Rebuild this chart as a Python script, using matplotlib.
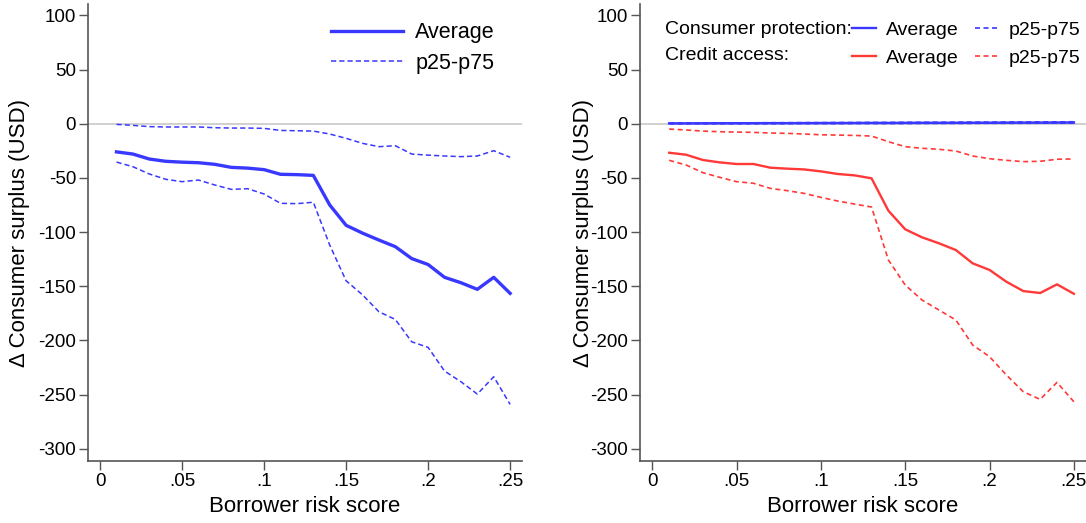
import matplotlib
matplotlib.use("Agg")
import matplotlib.pyplot as plt
from matplotlib.lines import Line2D

plt.rcParams['font.family'] = ['Liberation Sans', 'DejaVu Sans']
plt.rcParams['axes.unicode_minus'] = False

# borrower risk score bins
risk = [0.01, 0.02, 0.03, 0.04, 0.05, 0.06, 0.07, 0.08, 0.09, 0.10,
        0.11, 0.12, 0.13, 0.14, 0.15, 0.16, 0.17, 0.18, 0.19, 0.20,
        0.21, 0.22, 0.23, 0.24, 0.25]

# left panel: overall effect
left_avg = [-26, -28, -32.6, -34.7, -35.5, -36, -37.5, -40.3, -41, -42.4,
            -46.7, -47, -47.7, -75, -93.8, -101, -107.4, -113.5, -124.5, -130,
            -141.8, -146.8, -152.9, -141.8, -156.6]
left_p75 = [-0.6, -1.5, -2.7, -3, -3, -3, -3.7, -4, -4, -4.3,
            -6.2, -6.5, -6.8, -9.5, -13.5, -18.1, -21.2, -20.3, -28, -29,
            -29.8, -30.4, -29.8, -24.9, -31]
left_p25 = [-35.4, -39.7, -46.4, -51.3, -53.5, -52, -56.6, -60.6, -60, -64.9,
            -73.5, -73.8, -72.5, -112, -145, -158, -173.6, -180.7, -201.3, -206.5,
            -228.3, -238.2, -249.6, -233.6, -259.1]

# right panel: consumer protection (blue) and credit access (red)
cp_avg = [0.3, 0.3, 0.35, 0.4, 0.4, 0.45, 0.5, 0.5, 0.55, 0.6,
          0.6, 0.65, 0.7, 0.7, 0.75, 0.8, 0.8, 0.85, 0.9, 0.9,
          0.95, 1.0, 1.0, 1.05, 1.1]
cp_p25 = [0.0, 0.0, 0.0, 0.0, 0.0, 0.0, 0.0, 0.1, 0.1, 0.1,
          0.1, 0.2, 0.2, 0.2, 0.2, 0.3, 0.3, 0.3, 0.3, 0.4,
          0.4, 0.4, 0.5, 0.5, 0.5]
cp_p75 = [0.6, 0.6, 0.7, 0.7, 0.8, 0.8, 0.9, 0.9, 1.0, 1.0,
          1.1, 1.1, 1.2, 1.2, 1.3, 1.3, 1.4, 1.4, 1.5, 1.5,
          1.6, 1.6, 1.7, 1.7, 1.8]
ca_avg = [-26.8, -28.6, -33.5, -35.7, -37.2, -37.2, -40.6, -41.5, -42.2, -44,
          -46.4, -47.7, -50.4, -80.3, -97.5, -104.9, -110.4, -116.6, -128.9, -135,
          -145.9, -154.5, -156.3, -148.3, -157]
ca_p75 = [-4.9, -5.8, -6.8, -7.4, -7.7, -8, -8.6, -8.9, -9.5, -10.2,
          -10.5, -10.8, -11.4, -16.6, -21.2, -22.7, -23.6, -25.2, -29.8, -32.3,
          -33.8, -35, -34.7, -32.8, -32.5]
ca_p25 = [-33.8, -38.1, -45.2, -49.5, -53.5, -55, -59.7, -61.8, -64.3, -68,
          -71.4, -74.2, -76.9, -125.8, -149, -162.8, -172, -181.2, -204.3, -215.1,
          -232, -247.4, -254.5, -238.8, -256.7]

yticks = [100, 50, 0, -50, -100, -150, -200, -250, -300]
xticks = [0, 0.05, 0.1, 0.15, 0.2, 0.25]
xticklabels = ['0', '.05', '.1', '.15', '.2', '.25']

blue = '#3838ff'
red = '#ff3838'
axcol = '#555555'

fig = plt.figure(figsize=(10.86, 5.23), dpi=100)
ax1 = fig.add_axes([0.0813, 0.1185, 0.3993, 0.8738])
ax2 = fig.add_axes([0.5895, 0.1185, 0.4105, 0.8738])

for ax in (ax1, ax2):
    ax.axhline(0, color='#c8c8c8', lw=1.2, zorder=1)
    ax.set_xlim(-0.0072, 0.2572)
    ax.set_ylim(-311.4, 110.5)
    ax.set_yticks(yticks)
    ax.set_yticklabels([str(v) for v in yticks])
    ax.set_xticks(xticks)
    ax.set_xticklabels(xticklabels)
    for s in ('top', 'right'):
        ax.spines[s].set_visible(False)
    for s in ('left', 'bottom'):
        ax.spines[s].set_color(axcol)
        ax.spines[s].set_linewidth(1.2)
    ax.tick_params(colors=axcol, labelcolor='black', labelsize=13.5,
                   length=6.8, width=1.0, pad=2)
    ax.set_xlabel('Borrower risk score', fontsize=16)
    ax.set_ylabel('Δ Consumer surplus (USD)', fontsize=16)
    ax.xaxis.set_label_coords(0.5, -0.077)

ax1.yaxis.set_label_coords(-0.134, 0.5)
ax2.yaxis.set_label_coords(-0.103, 0.5)

# left panel
dash_l = (3.4, 2.0)
ax1.plot(risk, left_avg, color=blue, lw=2.4, solid_joinstyle='round', zorder=3)
ax1.plot(risk, left_p75, color=blue, lw=1.1, dashes=dash_l, zorder=2)
ax1.plot(risk, left_p25, color=blue, lw=1.1, dashes=dash_l, zorder=2)
h_avg = Line2D([], [], color=blue, lw=2.4)
h_p = Line2D([], [], color=blue, lw=1.1, dashes=dash_l)
ax1.legend([h_avg, h_p], ['Average', 'p25-p75'], loc='upper left',
           bbox_to_anchor=(0.559, 0.960), frameon=False, fontsize=15.5,
           borderpad=0, handlelength=3.35, handletextpad=0.57,
           labelspacing=0.45, borderaxespad=0)

# right panel
dash_r = (3, 2.1)
ax2.plot(risk, ca_avg, color=red, lw=1.7, zorder=3)
ax2.plot(risk, ca_p75, color=red, lw=1.2, dashes=dash_r, zorder=2)
ax2.plot(risk, ca_p25, color=red, lw=1.2, dashes=dash_r, zorder=2)
ax2.plot(risk, cp_avg, color=blue, lw=1.8, zorder=4)
ax2.plot(risk, cp_p25, color=blue, lw=1.2, dashes=dash_r, zorder=4)
ax2.plot(risk, cp_p75, color=blue, lw=1.2, dashes=dash_r, zorder=4)

hb_avg = Line2D([], [], color=blue, lw=1.7)
hr_avg = Line2D([], [], color=red, lw=1.7)
hb_p = Line2D([], [], color=blue, lw=1.2, dashes=dash_r)
hr_p = Line2D([], [], color=red, lw=1.2, dashes=dash_r)
ax2.legend([hb_avg, hr_avg, hb_p, hr_p],
           ['Average', 'Average', 'p25-p75', 'p25-p75'],
           ncol=2, loc='upper left', bbox_to_anchor=(0.4758, 0.962),
           frameon=False, fontsize=14, borderpad=0, handlelength=1.2,
           handletextpad=0.53, labelspacing=0.52, columnspacing=0.82,
           borderaxespad=0)
ax2.text(0.0555, 0.945, 'Consumer protection:', transform=ax2.transAxes,
         fontsize=14, va='center', ha='left')
ax2.text(0.0555, 0.887, 'Credit access:', transform=ax2.transAxes,
         fontsize=14, va='center', ha='left')

fig.savefig('out.png', dpi=100)
